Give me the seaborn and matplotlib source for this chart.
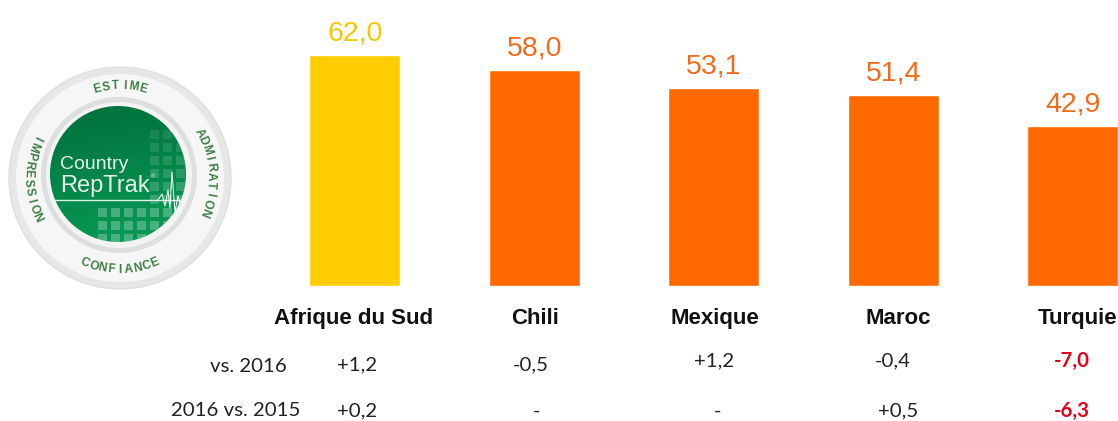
import numpy as np
import matplotlib
matplotlib.use("Agg")
import matplotlib.pyplot as plt
import matplotlib.patches as mpatches
import matplotlib.transforms as mtransforms
import pandas as pd
import seaborn as sns

# Data
countries = ["Afrique du Sud", "Chili", "Mexique", "Maroc", "Turquie"]
scores = [62.0, 58.0, 53.1, 51.4, 42.9]
bar_colors = ["#FFCC00", "#FF6900", "#FF6900", "#FF6900", "#FF6900"]
label_colors = ["#F5C800", "#F26A1B", "#F26A1B", "#F26A1B", "#F26A1B"]
vs_2016 = ["+1,2", "-0,5", "+1,2", "-0,4", "-7,0"]
vs_2015 = ["+0,2", "-", "-", "+0,5", "-6,3"]
row_names = ["vs. 2016", "2016 vs. 2015"]
logo_words = ["ESTIME", "ADMIRATION", "CONFIANCE", "IMPRESSION"]

W, H = 1118, 421
sns.set_theme(style="white")
plt.rcParams["font.family"] = ["Liberation Sans", "DejaVu Sans"]

fig = plt.figure(figsize=(W / 100, H / 100), dpi=100, facecolor="white")

# overlay in pixel coordinates, for the logo and the row labels
over = fig.add_axes([0, 0, 1, 1], zorder=3)
over.set_xlim(0, W)
over.set_ylim(H, 0)
over.axis("off")
over.patch.set_alpha(0)

# bars, baseline at y=286 px, one category = 179.5 px
ax = fig.add_axes([265 / W, (H - 286) / H, (W - 265) / W, 240 / H])
df = pd.DataFrame({"country": countries, "score": scores})
sns.barplot(data=df, x="country", y="score", hue="country", palette=bar_colors,
            saturation=1, width=0.507, legend=False, ax=ax)
ax.set_xlim(-0.5, -0.5 + (W - 265) / 179.5)
ax.set_ylim(0, 240 / 3.725)
ax.set_xlabel("")
ax.set_ylabel("")
ax.set_yticks([])
sns.despine(ax=ax, left=True, bottom=True)
ax.tick_params(axis="x", length=0, pad=16)
ax.set_xticks(range(len(countries)))
ax.set_xticklabels(countries, fontsize=16, fontweight="bold", color="#111111")
label_dx = [-1, 1, 1, 5, 5]
for lab, dx in zip(ax.get_xticklabels(), label_dx):
    lab.set_transform(lab.get_transform() + mtransforms.ScaledTranslation(dx / 100, 0, fig.dpi_scale_trans))

for i, (s, c) in enumerate(zip(scores, label_colors)):
    ax.annotate(f"{s:.1f}".replace(".", ","), (i, s), xytext=(0, 6), textcoords="offset points",
                ha="center", va="bottom", fontsize=20.5, color=c)

# rows under the bars
row_font = ["Lato", "DejaVu Sans"]
row_size = 14.7
trans = mtransforms.blended_transform_factory(ax.transData, over.transData)
row1_y = [365, 365, 361, 361, 361]
row2_y = [411, 411, 411, 411, 411]
row1_dx = [2, -3, 0, 0, -1]
row2_dx = [2, 2, 4, 5, -1]
for i in range(len(countries)):
    for vals, ys, dxs in ((vs_2016, row1_y, row1_dx), (vs_2015, row2_y, row2_dx)):
        red = i == 4
        over.annotate(vals[i], (i, ys[i]), xycoords=trans, xytext=(dxs[i] * 0.72, 0),
                      textcoords="offset points", ha="center", va="center",
                      fontsize=row_size, family=row_font,
                      color="#E3001B" if red else "#222222",
                      fontweight="bold" if red else "normal")
over.text(287, 366, row_names[0], ha="right", va="center", fontsize=row_size, family=row_font, color="#222222")
over.text(300, 411, row_names[1], ha="right", va="center", fontsize=row_size, family=row_font, color="#222222")

# logo
cx, cy = 120, 178
over.add_patch(mpatches.Circle((cx, cy), 111, fc="#E6E7E7", ec="#DEDFDF", lw=1))
over.add_patch(mpatches.Circle((cx, cy), 104, fc="#F6F6F6", ec="none"))
over.add_patch(mpatches.Circle((cx - 1, cy - 3), 78, fc="#DDDEDE", ec="none"))
over.add_patch(mpatches.Circle((cx - 1, cy - 3), 73, fc="#F4F3F3", ec="none"))

gx, gy, gr = 118, 174, 68
yy, xx = np.mgrid[-1:1:200j, -1:1:200j]
shade = np.clip(0.6 + 0.5 * yy + 0.1 * xx, 0, 1)
top = np.array([0, 110, 58]) / 255
low = np.array([8, 150, 84]) / 255
img = top + (low - top) * shade[..., None]
im = over.imshow(img, extent=(gx - gr, gx + gr, gy + gr, gy - gr), zorder=2, aspect="auto")
im.set_clip_path(mpatches.Circle((gx, gy), gr, transform=over.transData))
over.set_xlim(0, W)
over.set_ylim(H, 0)

# pale squares of the logo, fainter towards the top left
for y0 in range(130, 240, 13):
    for x0 in range(98, 190, 13):
        lower = y0 >= 205
        if not lower and x0 < 140:
            continue
        alpha = 0.3 if lower else 0.1 + 0.14 * (y0 - 130) / 75
        sq = mpatches.Rectangle((x0, y0), 9, 9, fc="#DDF0E2", ec="none", alpha=alpha, zorder=2.5)
        over.add_patch(sq)
        sq.set_clip_path(mpatches.Circle((gx, gy), gr, transform=over.transData))

over.plot([53, 186], [200, 200], color="#DDEFE3", lw=1, zorder=3)
over.plot([158, 162, 165, 168, 170, 172, 175, 178, 180, 186],
          [200, 194, 206, 190, 208, 172, 212, 196, 203, 200], color="white", lw=0.7, zorder=3)
over.text(60, 169, "Country", fontsize=14, color="#E4F2E8", va="baseline", zorder=4)
over.text(60, 192, "RepTrak", fontsize=17, color="#E4F2E8", va="baseline", zorder=4)
over.text(151, 178, "®", fontsize=4.5, color="#E4F2E8", va="baseline", zorder=4)


def arc_text(word, mid_deg, radius, step_deg, top_side=True):
    # letters one by one round the ring
    n = len(word)
    for k, ch in enumerate(word):
        off = (k - (n - 1) / 2) * step_deg
        ang = mid_deg - off if top_side else mid_deg + off
        rad = np.radians(ang)
        x = cx + radius * np.cos(rad)
        y = cy - radius * np.sin(rad)
        rot = ang - 90 if top_side else ang + 90
        over.text(x, y, ch, rotation=rot, rotation_mode="anchor", ha="center", va="center",
                  fontsize=8.6, fontweight="bold", color="#3F7D45", zorder=4)


arc_text(logo_words[0], 90, 92, 5.8)
arc_text(logo_words[1], 4, 91, 5.7)
arc_text(logo_words[2], 270, 92, 5.6, top_side=False)
arc_text(logo_words[3], 180, 92, 5.7, top_side=False)

fig.savefig("out.png", dpi=100)
